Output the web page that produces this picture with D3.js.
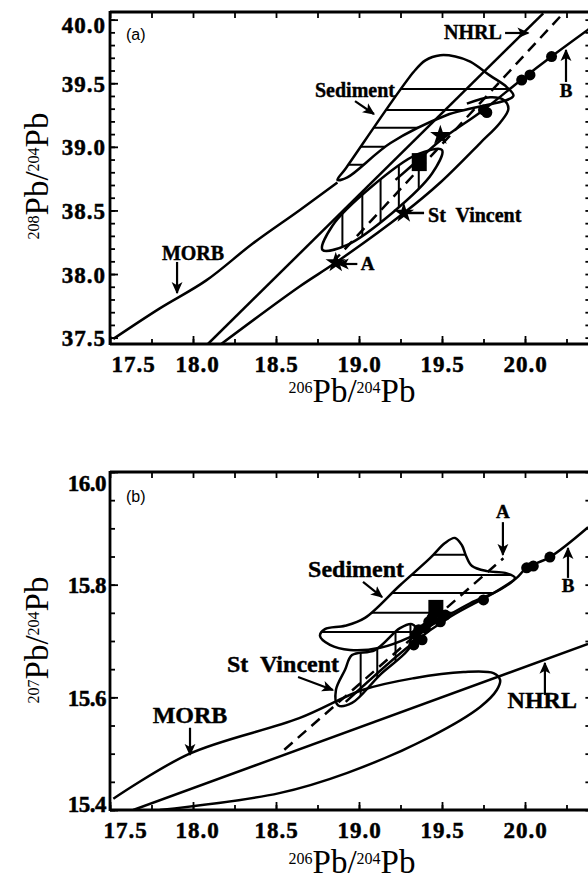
<!DOCTYPE html>
<html>
<head>
<meta charset="utf-8">
<title>Pb isotope diagrams</title>
<script src="https://cdn.jsdelivr.net/npm/d3@7"></script>
<style>
  body { margin: 0; background: #fff; }
  text { font-family: "Liberation Serif", "Times New Roman", serif; fill: #000; }
</style>
</head>
<body>
<script>
// Tick labels
var xTicks = [17.5, 18.0, 18.5, 19.0, 19.5, 20.0];
var yTicksA = [37.5, 38.0, 38.5, 39.0, 39.5, 40.0];
var yTicksB = [15.4, 15.6, 15.8, 16.0];

// ---- panel (a): 208Pb/204Pb vs 206Pb/204Pb ----
var morbA = [[17.52, 37.49], [17.80, 37.73], [18.08, 37.95], [18.36, 38.24], [18.64, 38.50], [18.87, 38.72]];
var nhrlA = [[18.09, 37.45], [20.11, 40.05]];
var fieldA = [[18.17, 37.45], [18.64, 37.90], [18.86, 38.09], [19.27, 38.48], [19.49, 38.72], [19.73, 39.03],
  [19.85, 39.19], [19.90, 39.30], [19.87, 39.37], [19.79, 39.39], [19.65, 39.34]];
var mixLineA_a = [[18.84, 38.09], [20.23, 40.05]];
var mixLineB_a = [[19.22, 38.74], [19.36, 38.90], [19.49, 39.05], [19.75, 39.29], [19.98, 39.53], [20.16, 39.71], [20.39, 39.93]];
var sedimentA = [[18.87, 38.74], [18.92, 38.83], [19.33, 39.59], [19.40, 39.68], [19.49, 39.72], [19.58, 39.71], [19.67, 39.67],
  [19.79, 39.56], [19.89, 39.47], [19.93, 39.40], [19.53, 39.25], [19.19, 39.03], [18.93, 38.76]];
var sedimentHatchA = [39.455, 39.29, 39.15, 39.0, 38.86];
var stVincentA = [[19.50, 38.975], [19.44, 38.79], [19.20, 38.48], [18.93, 38.23], [18.78, 38.19], [18.84, 38.38], [19.07, 38.68], [19.35, 38.94]];
var stVincentHatchA = [18.90, 19.02, 19.13, 19.24, 19.36];
var circlesA = [[19.75, 39.29], [19.77, 39.27], [19.98, 39.525], [20.03, 39.565], [20.16, 39.71]];
var squaresA = [[19.36, 38.88]];
var starsA = [[18.86, 38.09], [19.27, 38.48], [19.49, 39.09]];

var labelsA = [
  { t: "NHRL", x: 19.86, y: 39.85, anchor: "end" },
  { t: "Sediment", x: 18.735, y: 39.392, anchor: "start" },
  { t: "St  Vincent", x: 19.416, y: 38.41, anchor: "start" },
  { t: "A", x: 19.01, y: 38.032, anchor: "start" },
  { t: "MORB", x: 18.0, y: 38.11, anchor: "middle" },
  { t: "B", x: 20.247, y: 39.392, anchor: "middle" }
];
var arrowsA = [
  [[19.88, 39.895], [20.02, 39.895]],
  [[18.976, 39.36], [19.09, 39.258]],
  [[18.99, 38.079], [18.873, 38.079]],
  [[17.904, 38.095], [17.904, 37.851]],
  [[20.247, 39.51], [20.247, 39.761]]
];
var connectorsA = [[[19.277, 38.48], [19.392, 38.48]]];

// ---- panel (b): 207Pb/204Pb vs 206Pb/204Pb ----
var morbB = [[17.52, 15.42], [17.98, 15.50], [18.64, 15.563], [19.02, 15.613], [19.33, 15.634], [19.63, 15.645], [19.81, 15.643],
  [19.85, 15.631], [19.83, 15.613], [19.73, 15.583], [19.43, 15.530], [18.93, 15.466], [18.52, 15.430], [17.80, 15.40]];
var nhrlB = [[17.64, 15.40], [20.38, 15.695]];
var mixLineA_b = [[18.55, 15.507], [19.87, 15.847]];
var mixLineB_b = [[18.92, 15.592], [19.31, 15.693], [19.55, 15.743], [19.81, 15.785], [19.95, 15.812], [20.01, 15.83], [20.15, 15.849], [20.38, 15.902]];
var sedimentB = [[19.578, 15.883], [19.62, 15.87], [19.645, 15.851], [19.681, 15.833], [19.771, 15.824], [19.88, 15.821], [19.94, 15.812],
  [19.849, 15.791], [19.669, 15.767], [19.488, 15.737], [19.307, 15.707], [19.127, 15.688], [18.946, 15.684], [18.825, 15.693],
  [18.765, 15.709], [18.795, 15.721], [18.916, 15.727], [19.036, 15.741], [19.247, 15.799], [19.428, 15.847], [19.518, 15.874]];
var sedimentHatchB = [15.853, 15.817, 15.785, 15.75, 15.716];
var stVincentB = [[18.873, 15.586], [18.861, 15.613], [18.916, 15.649], [18.958, 15.675], [19.096, 15.684], [19.247, 15.723],
  [19.319, 15.73], [19.355, 15.716], [19.295, 15.684], [19.127, 15.64], [18.958, 15.59]];
var stVincentHatchB = [19.01, 19.11, 19.22, 19.31];
var circlesB = [[19.75, 15.773], [20.01, 15.83], [20.05, 15.833], [20.15, 15.849], [19.36, 15.72], [19.42, 15.734],
  [19.38, 15.702], [19.33, 15.693], [19.49, 15.734], [19.34, 15.711], [19.40, 15.723], [19.44, 15.741], [19.52, 15.746]];
var squaresB = [[19.46, 15.757]];
var starsB = [];

var labelsB = [
  { t: "Sediment", x: 18.693, y: 15.814, anchor: "start" },
  { t: "St  Vincent", x: 18.205, y: 15.645, anchor: "start" },
  { t: "MORB", x: 17.982, y: 15.554, anchor: "middle" },
  { t: "NHRL", x: 20.313, y: 15.581, anchor: "end" },
  { t: "A", x: 19.867, y: 15.918, anchor: "middle" },
  { t: "B", x: 20.259, y: 15.787, anchor: "middle" }
];
var arrowsB = [
  [[19.024, 15.805], [19.139, 15.778]],
  [[18.633, 15.636], [18.843, 15.613]],
  [[17.982, 15.546], [17.982, 15.498]],
  [[20.12, 15.604], [20.12, 15.661]],
  [[19.867, 15.911], [19.867, 15.853]],
  [[20.259, 15.812], [20.259, 15.865]]
];
var connectorsB = [];

// Chart params
var svgWidth = 588;
var svgHeight = 885;

var svg = d3.select("body")
  .append("svg")
  .attr("width", svgWidth)
  .attr("height", svgHeight);

var defs = svg.append("defs");
defs.append("marker")
  .attr("id", "arrow")
  .attr("viewBox", "0 0 10 10")
  .attr("refX", 9)
  .attr("refY", 5)
  .attr("markerWidth", 5.5)
  .attr("markerHeight", 5.5)
  .attr("orient", "auto")
  .append("path")
  .attr("d", "M0,0.5 L10,5 L0,9.5 L2.5,5 z")
  .attr("fill", "#000");

// shared x scale (206Pb/204Pb)
var xScale = d3.scaleLinear().domain([17.5, 20.4]).range([110, 591.4]);
var xMinor = d3.range(17.5, 20.4, 0.25);

function drawPanel(p) {
  var yScale = d3.scaleLinear().domain(p.yDomain).range([p.bottom, p.top]);
  var left = xScale.range()[0], right = xScale.range()[1];
  var line = d3.line().x(d => xScale(d[0])).y(d => yScale(d[1]));
  var smooth = d3.line().x(d => xScale(d[0])).y(d => yScale(d[1])).curve(d3.curveCatmullRom);
  var closed = d3.line().x(d => xScale(d[0])).y(d => yScale(d[1])).curve(d3.curveCatmullRomClosed);

  defs.append("clipPath").attr("id", "clip-" + p.id)
    .append("rect")
    .attr("x", left).attr("y", p.top)
    .attr("width", right - left).attr("height", p.bottom - p.top);
  defs.append("clipPath").attr("id", "sed-" + p.id)
    .append("path").attr("d", closed(p.sediment));
  defs.append("clipPath").attr("id", "stv-" + p.id)
    .append("path").attr("d", closed(p.stVincent));

  var plot = svg.append("g").attr("clip-path", `url(#clip-${p.id})`);

  // hatching
  plot.append("g").attr("clip-path", `url(#sed-${p.id})`)
    .selectAll("line").data(p.sedimentHatch).join("line")
    .attr("x1", left).attr("x2", right)
    .attr("y1", d => yScale(d)).attr("y2", d => yScale(d))
    .attr("stroke", "#000").attr("stroke-width", 2);
  plot.append("g").attr("clip-path", `url(#stv-${p.id})`)
    .selectAll("line").data(p.stVincentHatch).join("line")
    .attr("x1", d => xScale(d)).attr("x2", d => xScale(d))
    .attr("y1", p.top).attr("y2", p.bottom)
    .attr("stroke", "#000").attr("stroke-width", 2);

  // fields and lines
  var stroke = { fill: "none", stroke: "#000", "stroke-width": 2.5, "stroke-linejoin": "round" };
  function path(d, gen, extra) {
    var el = plot.append("path").attr("d", gen(d));
    Object.entries(stroke).forEach(([k, v]) => el.attr(k, v));
    if (extra) Object.entries(extra).forEach(([k, v]) => el.attr(k, v));
    return el;
  }
  path(p.morb, smooth);
  path(p.nhrl, line);
  if (p.field) path(p.field, smooth);
  path(p.sediment, closed);
  path(p.stVincent, closed);
  path(p.mixA, line, { "stroke-dasharray": "11,7" });
  path(p.mixB, smooth);

  // samples
  plot.selectAll("circle.s").data(p.circles).join("circle")
    .attr("cx", d => xScale(d[0])).attr("cy", d => yScale(d[1])).attr("r", 5.5);
  plot.selectAll("rect.s").data(p.squares).join("rect")
    .attr("x", d => xScale(d[0]) - 7).attr("y", d => yScale(d[1]) - 9)
    .attr("width", 15).attr("height", 18);
  plot.selectAll("path.star").data(p.stars).join("path")
    .attr("class", "star")
    .attr("d", d3.symbol(d3.symbolStar, 130))
    .attr("transform", d => `translate(${xScale(d[0])},${yScale(d[1])})`);

  // annotations
  svg.append("g").selectAll("line").data(p.arrows).join("line")
    .attr("x1", d => xScale(d[0][0])).attr("y1", d => yScale(d[0][1]))
    .attr("x2", d => xScale(d[1][0])).attr("y2", d => yScale(d[1][1]))
    .attr("stroke", "#000").attr("stroke-width", 2.2)
    .attr("marker-end", "url(#arrow)");
  svg.append("g").selectAll("line").data(p.connectors).join("line")
    .attr("x1", d => xScale(d[0][0])).attr("y1", d => yScale(d[0][1]))
    .attr("x2", d => xScale(d[1][0])).attr("y2", d => yScale(d[1][1]))
    .attr("stroke", "#000").attr("stroke-width", 2.5);
  svg.append("g").selectAll("text").data(p.labels).join("text")
    .attr("x", d => xScale(d.x)).attr("y", d => yScale(d.y))
    .attr("text-anchor", d => d.anchor)
    .style("white-space", "pre")
    .style("font-weight", "bold")
    .style("font-size", d => (d.t.length === 1 ? 19 : p.labelSize) + "px")
    .style("stroke", "#000").style("stroke-width", 0.4)
    .text(d => d.t);

  // axes: minor then major ticks
  function styleAxis(g) {
    g.select(".domain").remove();
    g.selectAll(".tick line").attr("stroke-width", 1.8);
    g.selectAll(".tick text")
      .style("font-family", '"Liberation Serif", serif')
      .style("font-weight", "bold")
      .style("font-size", "23px")
      .style("stroke", "#000").style("stroke-width", 0.5);
  }
  var fmt = d3.format(".1f");
  svg.append("g").attr("transform", `translate(0,${p.bottom})`)
    .call(d3.axisBottom(xScale).tickValues(xMinor).tickSize(-5).tickFormat("")).call(styleAxis);
  var xAxis = svg.append("g").attr("transform", `translate(0,${p.bottom})`)
    .call(d3.axisBottom(xScale).tickValues(xTicks).tickSize(-8).tickPadding(12).tickFormat(fmt)).call(styleAxis);
  xAxis.selectAll(".tick text").style("letter-spacing", "1px")
    .attr("dx", d => d === 17.5 ? p.firstXShift : (d === 18.0 ? 4 : 0));

  svg.append("g").attr("transform", `translate(0,${p.top})`)
    .call(d3.axisTop(xScale).tickValues(xMinor).tickSize(-6).tickFormat("")).call(styleAxis);

  svg.append("g").attr("transform", `translate(${left},0)`)
    .call(d3.axisLeft(yScale).tickValues(p.yMinor).tickSize(-5).tickFormat("")).call(styleAxis);
  var yAxis = svg.append("g").attr("transform", `translate(${left},0)`)
    .call(d3.axisLeft(yScale).tickValues(p.yTicks).tickSize(-8).tickPadding(4).tickFormat(fmt)).call(styleAxis);
  yAxis.selectAll(".tick text")
    .style("letter-spacing", p.yLetter)
    .attr("dy", d => (p.yLabelShift[d] !== undefined ? p.yLabelShift[d] : 0) + 8);

  svg.append("g").attr("transform", `translate(${right},0)`)
    .call(d3.axisRight(yScale).tickValues(p.yMinor).tickSize(-6).tickFormat("")).call(styleAxis);

  // frame
  var frame = svg.append("g").attr("stroke", "#000").attr("stroke-width", 2.8);
  frame.append("line").attr("x1", left).attr("x2", left).attr("y1", p.top - 1).attr("y2", p.bottom + 1);
  frame.append("line").attr("x1", left).attr("x2", right).attr("y1", p.top).attr("y2", p.top);
  frame.append("line").attr("x1", left).attr("x2", right).attr("y1", p.bottom).attr("y2", p.bottom);
  frame.append("line").attr("x1", right).attr("x2", right).attr("y1", p.top).attr("y2", p.bottom);

  // panel letter
  svg.append("text")
    .attr("x", 126).attr("y", p.top + p.letterDy)
    .style("font-family", '"Liberation Sans", Arial, sans-serif')
    .style("font-size", "16px")
    .text(p.letter);

  // axis titles
  var xt = svg.append("text")
    .attr("x", 352).attr("y", p.bottom + p.xTitleDy)
    .attr("text-anchor", "middle")
    .style("font-size", "33px");
  xt.append("tspan").text("206").style("font-size", "16px").attr("dy", -9);
  xt.append("tspan").text("Pb/").attr("dy", 9);
  xt.append("tspan").text("204").style("font-size", "16px").attr("dy", -9);
  xt.append("tspan").text("Pb").attr("dy", 9);

  var yt = svg.append("text")
    .attr("transform", `translate(48,${p.yTitleCenter}) rotate(-90)`)
    .attr("text-anchor", "middle")
    .style("font-size", "33px");
  yt.append("tspan").text(p.yIso).style("font-size", "16px").attr("dy", -9);
  yt.append("tspan").text("Pb/").attr("dy", 9);
  yt.append("tspan").text("204").style("font-size", "16px").attr("dy", -9);
  yt.append("tspan").text("Pb").attr("dy", 9);
}

drawPanel({
  id: "a", letter: "(a)", letterDy: 28,
  top: 12, bottom: 344, yDomain: [37.45, 40.06],
  yTicks: yTicksA, yMinor: d3.range(37.5, 40.05, 0.1), yLabelShift: { 40.0: 5 }, yLetter: "1px",
  firstXShift: 23, xTitleDy: 58, yIso: "208", yTitleCenter: 176,
  morb: morbA, nhrl: nhrlA, field: fieldA, mixA: mixLineA_a, mixB: mixLineB_a,
  sediment: sedimentA, sedimentHatch: sedimentHatchA,
  stVincent: stVincentA, stVincentHatch: stVincentHatchA,
  circles: circlesA, squares: squaresA, stars: starsA,
  labels: labelsA, arrows: arrowsA, connectors: connectorsA, labelSize: 20
});

drawPanel({
  id: "b", letter: "(b)", letterDy: 30,
  top: 472, bottom: 810, yDomain: [15.4, 16.0],
  yTicks: yTicksB, yMinor: d3.range(15.4, 16.001, 0.05), yLabelShift: { 16.0: 10, 15.4: -7 }, yLetter: "-0.5px",
  firstXShift: 15, xTitleDy: 63, yIso: "207", yTitleCenter: 640,
  morb: morbB, nhrl: nhrlB, field: null, mixA: mixLineA_b, mixB: mixLineB_b,
  sediment: sedimentB, sedimentHatch: sedimentHatchB,
  stVincent: stVincentB, stVincentHatch: stVincentHatchB,
  circles: circlesB, squares: squaresB, stars: starsB,
  labels: labelsB, arrows: arrowsB, connectors: connectorsB, labelSize: 24
});
</script>
</body>
</html>
